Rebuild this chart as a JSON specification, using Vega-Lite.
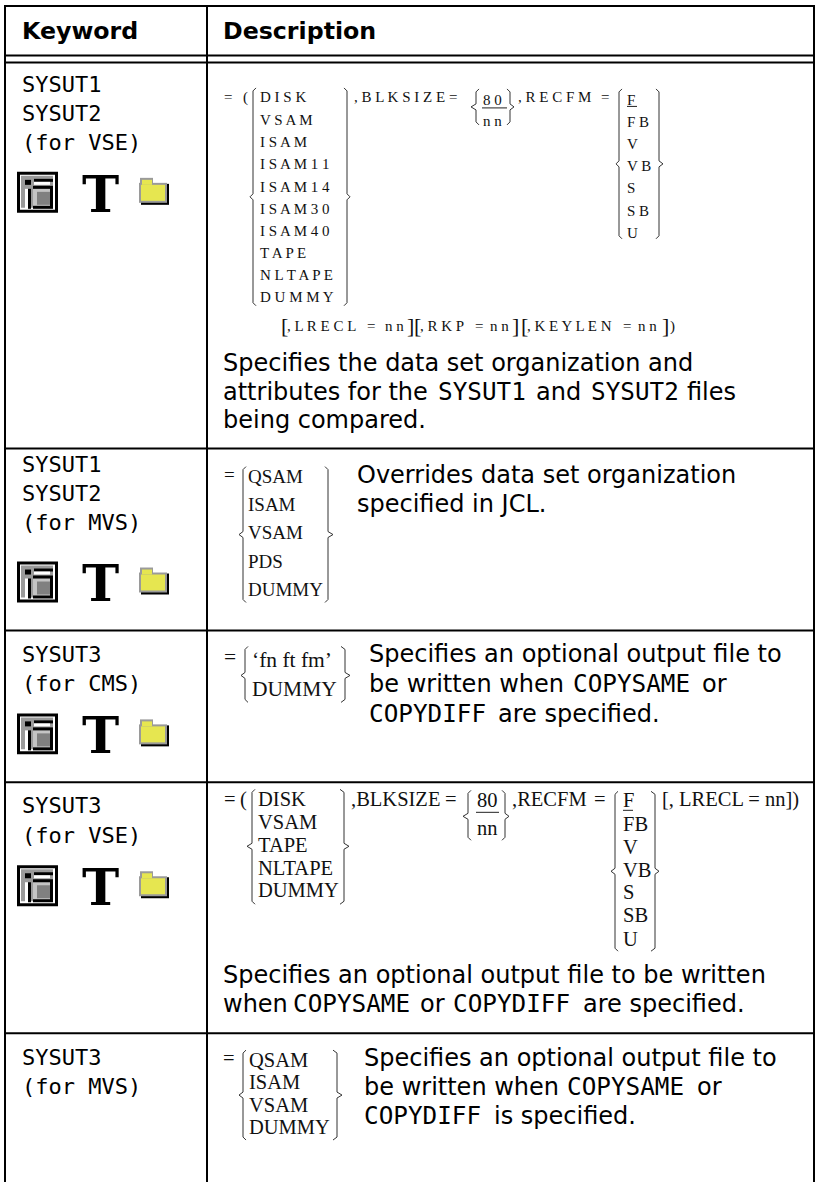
{
"$schema":"https://vega.github.io/schema/vega-lite/v6.json",
"width":818,"height":1183,"padding":0,
"autosize":{"type":"fit","contains":"padding"},
"background":"white",
"view":{"stroke":null},
"datasets":{
"grid":[
{"x":5,"x2":5,"y":6,"y2":1183},{"x":207,"x2":207,"y":6,"y2":1183},{"x":814,"x2":814,"y":6,"y2":1183},
{"x":4,"x2":815,"y":6,"y2":6},{"x":4,"x2":815,"y":55.5,"y2":55.5},{"x":4,"x2":815,"y":62.5,"y2":62.5},
{"x":4,"x2":815,"y":449,"y2":449},{"x":4,"x2":815,"y":631,"y2":631},{"x":4,"x2":815,"y":783,"y2":783},{"x":4,"x2":815,"y":1034,"y2":1034}
],
"icons":[
{"part":"ink","x":17,"x2":58,"y":172,"y2":213},{"part":"ring","x":20,"x2":55,"y":175,"y2":210},{"part":"shade","x":21,"x2":53,"y":176,"y2":208},{"part":"ink","x":25,"x2":31,"y":180,"y2":185},{"part":"ink","x":34,"x2":53,"y":179,"y2":182},{"part":"ring","x":34,"x2":50,"y":182,"y2":185},{"part":"ring","x":25,"x2":28,"y":189,"y2":209},{"part":"ink","x":28,"x2":31,"y":189,"y2":209},{"part":"ink","x":33,"x2":53,"y":186,"y2":209},{"part":"pale","x":33,"x2":50,"y":189,"y2":206},{"part":"mid","x":37,"x2":50,"y":192,"y2":205},
{"part":"ink","x":141,"x2":169,"y":184,"y2":205},{"part":"shade","x":139,"x2":167,"y":183,"y2":203},{"part":"shade","x":140,"x2":153,"y":178,"y2":184},{"part":"yellow","x":142,"x2":152,"y":180,"y2":185},{"part":"yellow","x":141,"x2":165,"y":185,"y2":201},
{"part":"ink","x":17,"x2":58,"y":562,"y2":603},{"part":"ring","x":20,"x2":55,"y":565,"y2":600},{"part":"shade","x":21,"x2":53,"y":566,"y2":598},{"part":"ink","x":25,"x2":31,"y":570,"y2":575},{"part":"ink","x":34,"x2":53,"y":569,"y2":572},{"part":"ring","x":34,"x2":50,"y":572,"y2":575},{"part":"ring","x":25,"x2":28,"y":579,"y2":599},{"part":"ink","x":28,"x2":31,"y":579,"y2":599},{"part":"ink","x":33,"x2":53,"y":576,"y2":599},{"part":"pale","x":33,"x2":50,"y":579,"y2":596},{"part":"mid","x":37,"x2":50,"y":582,"y2":595},
{"part":"ink","x":141,"x2":169,"y":574,"y2":595},{"part":"shade","x":139,"x2":167,"y":573,"y2":593},{"part":"shade","x":140,"x2":153,"y":568,"y2":574},{"part":"yellow","x":142,"x2":152,"y":570,"y2":575},{"part":"yellow","x":141,"x2":165,"y":575,"y2":591},
{"part":"ink","x":17,"x2":58,"y":714,"y2":755},{"part":"ring","x":20,"x2":55,"y":717,"y2":752},{"part":"shade","x":21,"x2":53,"y":718,"y2":750},{"part":"ink","x":25,"x2":31,"y":722,"y2":727},{"part":"ink","x":34,"x2":53,"y":721,"y2":724},{"part":"ring","x":34,"x2":50,"y":724,"y2":727},{"part":"ring","x":25,"x2":28,"y":731,"y2":751},{"part":"ink","x":28,"x2":31,"y":731,"y2":751},{"part":"ink","x":33,"x2":53,"y":728,"y2":751},{"part":"pale","x":33,"x2":50,"y":731,"y2":748},{"part":"mid","x":37,"x2":50,"y":734,"y2":747},
{"part":"ink","x":141,"x2":169,"y":726,"y2":747},{"part":"shade","x":139,"x2":167,"y":725,"y2":745},{"part":"shade","x":140,"x2":153,"y":720,"y2":726},{"part":"yellow","x":142,"x2":152,"y":722,"y2":727},{"part":"yellow","x":141,"x2":165,"y":727,"y2":743},
{"part":"ink","x":17,"x2":58,"y":866,"y2":907},{"part":"ring","x":20,"x2":55,"y":869,"y2":904},{"part":"shade","x":21,"x2":53,"y":870,"y2":902},{"part":"ink","x":25,"x2":31,"y":874,"y2":879},{"part":"ink","x":34,"x2":53,"y":873,"y2":876},{"part":"ring","x":34,"x2":50,"y":876,"y2":879},{"part":"ring","x":25,"x2":28,"y":883,"y2":903},{"part":"ink","x":28,"x2":31,"y":883,"y2":903},{"part":"ink","x":33,"x2":53,"y":880,"y2":903},{"part":"pale","x":33,"x2":50,"y":883,"y2":900},{"part":"mid","x":37,"x2":50,"y":886,"y2":899},
{"part":"ink","x":141,"x2":169,"y":878,"y2":899},{"part":"shade","x":139,"x2":167,"y":877,"y2":897},{"part":"shade","x":140,"x2":153,"y":872,"y2":878},{"part":"yellow","x":142,"x2":152,"y":874,"y2":879},{"part":"yellow","x":141,"x2":165,"y":879,"y2":895}
],
"tees":[{"x":82,"y":212,"t":"T"},{"x":82,"y":602,"t":"T"},{"x":82,"y":754,"t":"T"},{"x":82,"y":906,"t":"T"}],
"head":[{"x":22,"y":39,"t":"Keyword"},{"x":223,"y":39,"t":"Description"}],
"keys":[
{"x":22,"y":92,"t":"SYSUT1"},{"x":22,"y":121,"t":"SYSUT2"},{"x":22,"y":150,"t":"(for VSE)"},
{"x":22,"y":472,"t":"SYSUT1"},{"x":22,"y":501,"t":"SYSUT2"},{"x":22,"y":530,"t":"(for MVS)"},
{"x":22,"y":663,"t":"SYSUT3"},{"x":22,"y":692,"t":"(for CMS)"},
{"x":22,"y":814,"t":"SYSUT3"},{"x":22,"y":844,"t":"(for VSE)"},
{"x":22,"y":1066,"t":"SYSUT3"},{"x":22,"y":1095,"t":"(for MVS)"}
],
"body":[
{"x":223,"y":371,"t":"Specifies the data set organization and"},
{"x":223,"y":400,"t":"attributes for the"},{"x":536,"y":400,"t":"and"},{"x":687,"y":400,"t":"files"},
{"x":223,"y":428,"t":"being compared."},
{"x":357,"y":483,"t":"Overrides data set organization"},{"x":357,"y":512,"t":"specified in JCL."},
{"x":369,"y":663,"t":"Specifies an optional output file to"},{"x":369,"y":693,"t":"be written when"},{"x":702,"y":693,"t":"or"},{"x":498,"y":723,"t":"are specified."},
{"x":223,"y":984,"t":"Specifies an optional output file to be written"},{"x":223,"y":1013,"t":"when"},{"x":420,"y":1013,"t":"or"},{"x":583,"y":1013,"t":"are specified."},
{"x":364,"y":1067,"t":"Specifies an optional output file to"},{"x":364,"y":1096,"t":"be written when"},{"x":697,"y":1096,"t":"or"},{"x":494,"y":1125,"t":"is specified."}
],
"codes":[
{"x":438,"y":400,"t":"SYSUT1"},{"x":591,"y":400,"t":"SYSUT2"},
{"x":573,"y":693,"t":"COPYSAME"},{"x":369,"y":723,"t":"COPYDIFF"},
{"x":293,"y":1013,"t":"COPYSAME"},{"x":453,"y":1013,"t":"COPYDIFF"},
{"x":567,"y":1096,"t":"COPYSAME"},{"x":364,"y":1125,"t":"COPYDIFF"}
],
"tracked":[
{"x":224,"y":102,"t":"="},{"x":243,"y":102,"t":"("},
{"x":260,"y":102,"t":"D I S K"},{"x":260,"y":125,"t":"V S A M"},{"x":260,"y":147,"t":"I S A M"},{"x":260,"y":169,"t":"I S A M 1 1"},{"x":260,"y":192,"t":"I S A M 1 4"},{"x":260,"y":214,"t":"I S A M 3 0"},{"x":260,"y":236,"t":"I S A M 4 0"},{"x":260,"y":258,"t":"T A P E"},{"x":260,"y":280,"t":"N L T A P E"},{"x":260,"y":302,"t":"D U M M Y"},
{"x":354,"y":102,"t":", B L K S I Z E"},{"x":449,"y":102,"t":"="},
{"x":483,"y":105,"t":"8 0"},{"x":483,"y":126,"t":"n n"},
{"x":518,"y":102,"t":", R E C F M"},{"x":601,"y":102,"t":"="},
{"x":627,"y":105,"t":"F"},{"x":627,"y":127,"t":"F B"},{"x":627,"y":149,"t":"V"},{"x":627,"y":171,"t":"V B"},{"x":627,"y":193,"t":"S"},{"x":627,"y":216,"t":"S B"},{"x":627,"y":238,"t":"U"},
{"x":287,"y":331,"t":", L R E C L"},{"x":367,"y":331,"t":"="},{"x":385,"y":331,"t":"n n"},
{"x":420,"y":331,"t":", R K P"},{"x":475,"y":331,"t":"="},{"x":490,"y":331,"t":"n n"},
{"x":527,"y":331,"t":", K E Y L E N"},{"x":623,"y":331,"t":"="},{"x":638,"y":331,"t":"n n"}
],
"squares":[
{"x":281,"y":333,"t":"["},{"x":407,"y":333,"t":"]"},{"x":414,"y":333,"t":"["},{"x":512,"y":333,"t":"]"},{"x":521,"y":333,"t":"["},{"x":662,"y":333,"t":"]"}
],
"closer":[{"x":670,"y":331,"t":")"}],
"m19":[
{"x":224,"y":481,"t":"="},{"x":248,"y":483,"t":"QSAM"},{"x":248,"y":511,"t":"ISAM"},{"x":248,"y":539,"t":"VSAM"},{"x":248,"y":568,"t":"PDS"},{"x":248,"y":597,"t":"DUMMY"}
],
"m21":[
{"x":224,"y":665,"t":"="},{"x":252,"y":668,"t":"‘fn ft fm’"},{"x":252,"y":697,"t":"DUMMY"}
],
"m20":[
{"x":224,"y":807,"t":"="},{"x":240,"y":807,"t":"("},{"x":258,"y":807,"t":"DISK"},{"x":258,"y":830,"t":"VSAM"},{"x":258,"y":853,"t":"TAPE"},{"x":258,"y":876,"t":"NLTAPE"},{"x":258,"y":898,"t":"DUMMY"},
{"x":351,"y":807,"t":",BLKSIZE"},{"x":445,"y":807,"t":"="},{"x":477,"y":808,"t":"80"},{"x":477,"y":836,"t":"nn"},
{"x":512,"y":807,"t":",RECFM"},{"x":594,"y":807,"t":"="},
{"x":623,"y":808,"t":"F"},{"x":623,"y":832,"t":"FB"},{"x":623,"y":855,"t":"V"},{"x":623,"y":878,"t":"VB"},{"x":623,"y":900,"t":"S"},{"x":623,"y":923,"t":"SB"},{"x":623,"y":947,"t":"U"},
{"x":662,"y":807,"t":"[, LRECL = nn])"},
{"x":223,"y":1066,"t":"="},{"x":249,"y":1068,"t":"QSAM"},{"x":249,"y":1090,"t":"ISAM"},{"x":249,"y":1113,"t":"VSAM"},{"x":249,"y":1135,"t":"DUMMY"}
],
"strokes":[
{"x":482,"x2":507,"y":108,"y2":108},{"x":627,"x2":637,"y":106.5,"y2":106.5},
{"x":476,"x2":499,"y":813,"y2":813},{"x":623,"x2":633,"y":811,"y2":811}
],
"braces":[
{"b":"A1","i":0,"x":256,"y":88},{"b":"A1","i":1,"x":253,"y":91},{"b":"A1","i":2,"x":253,"y":194},{"b":"A1","i":3,"x":250,"y":197},{"b":"A1","i":4,"x":253,"y":200},{"b":"A1","i":5,"x":253,"y":303},{"b":"A1","i":6,"x":256,"y":306},
{"b":"A2","i":0,"x":344,"y":88},{"b":"A2","i":1,"x":347,"y":91},{"b":"A2","i":2,"x":347,"y":194},{"b":"A2","i":3,"x":350,"y":197},{"b":"A2","i":4,"x":347,"y":200},{"b":"A2","i":5,"x":347,"y":303},{"b":"A2","i":6,"x":344,"y":306},
{"b":"B1","i":0,"x":479,"y":89},{"b":"B1","i":1,"x":476,"y":92},{"b":"B1","i":2,"x":476,"y":104},{"b":"B1","i":3,"x":471,"y":107},{"b":"B1","i":4,"x":476,"y":110},{"b":"B1","i":5,"x":476,"y":122},{"b":"B1","i":6,"x":479,"y":125},
{"b":"B2","i":0,"x":507,"y":89},{"b":"B2","i":1,"x":510,"y":92},{"b":"B2","i":2,"x":510,"y":104},{"b":"B2","i":3,"x":514,"y":107},{"b":"B2","i":4,"x":510,"y":110},{"b":"B2","i":5,"x":510,"y":122},{"b":"B2","i":6,"x":507,"y":125},
{"b":"C1","i":0,"x":622,"y":89},{"b":"C1","i":1,"x":619,"y":92},{"b":"C1","i":2,"x":619,"y":161},{"b":"C1","i":3,"x":616,"y":164},{"b":"C1","i":4,"x":619,"y":167},{"b":"C1","i":5,"x":619,"y":236},{"b":"C1","i":6,"x":622,"y":239},
{"b":"C2","i":0,"x":656,"y":89},{"b":"C2","i":1,"x":659,"y":92},{"b":"C2","i":2,"x":659,"y":161},{"b":"C2","i":3,"x":663,"y":164},{"b":"C2","i":4,"x":659,"y":167},{"b":"C2","i":5,"x":659,"y":236},{"b":"C2","i":6,"x":656,"y":239},
{"b":"D1","i":0,"x":246,"y":467},{"b":"D1","i":1,"x":243,"y":470},{"b":"D1","i":2,"x":243,"y":532},{"b":"D1","i":3,"x":239,"y":535},{"b":"D1","i":4,"x":243,"y":538},{"b":"D1","i":5,"x":243,"y":600},{"b":"D1","i":6,"x":246,"y":603},
{"b":"D2","i":0,"x":325,"y":467},{"b":"D2","i":1,"x":328,"y":470},{"b":"D2","i":2,"x":328,"y":532},{"b":"D2","i":3,"x":333,"y":535},{"b":"D2","i":4,"x":328,"y":538},{"b":"D2","i":5,"x":328,"y":600},{"b":"D2","i":6,"x":325,"y":603},
{"b":"E1","i":0,"x":248,"y":647},{"b":"E1","i":1,"x":245,"y":650},{"b":"E1","i":2,"x":245,"y":673},{"b":"E1","i":3,"x":241,"y":676},{"b":"E1","i":4,"x":245,"y":679},{"b":"E1","i":5,"x":245,"y":700},{"b":"E1","i":6,"x":248,"y":703},
{"b":"E2","i":0,"x":341,"y":647},{"b":"E2","i":1,"x":345,"y":650},{"b":"E2","i":2,"x":345,"y":673},{"b":"E2","i":3,"x":350,"y":676},{"b":"E2","i":4,"x":345,"y":679},{"b":"E2","i":5,"x":345,"y":700},{"b":"E2","i":6,"x":341,"y":703},
{"b":"F1","i":0,"x":255,"y":790},{"b":"F1","i":1,"x":252,"y":793},{"b":"F1","i":2,"x":252,"y":844},{"b":"F1","i":3,"x":247,"y":847},{"b":"F1","i":4,"x":252,"y":850},{"b":"F1","i":5,"x":252,"y":902},{"b":"F1","i":6,"x":255,"y":905},
{"b":"F2","i":0,"x":340,"y":790},{"b":"F2","i":1,"x":344,"y":793},{"b":"F2","i":2,"x":344,"y":844},{"b":"F2","i":3,"x":349,"y":847},{"b":"F2","i":4,"x":344,"y":850},{"b":"F2","i":5,"x":344,"y":902},{"b":"F2","i":6,"x":340,"y":905},
{"b":"G1","i":0,"x":471,"y":791},{"b":"G1","i":1,"x":468,"y":794},{"b":"G1","i":2,"x":468,"y":814},{"b":"G1","i":3,"x":463,"y":817},{"b":"G1","i":4,"x":468,"y":820},{"b":"G1","i":5,"x":468,"y":838},{"b":"G1","i":6,"x":471,"y":841},
{"b":"G2","i":0,"x":502,"y":791},{"b":"G2","i":1,"x":505,"y":794},{"b":"G2","i":2,"x":505,"y":814},{"b":"G2","i":3,"x":509,"y":817},{"b":"G2","i":4,"x":505,"y":820},{"b":"G2","i":5,"x":505,"y":838},{"b":"G2","i":6,"x":502,"y":841},
{"b":"H1","i":0,"x":618,"y":792},{"b":"H1","i":1,"x":615,"y":795},{"b":"H1","i":2,"x":615,"y":869},{"b":"H1","i":3,"x":611,"y":872},{"b":"H1","i":4,"x":615,"y":875},{"b":"H1","i":5,"x":615,"y":949},{"b":"H1","i":6,"x":618,"y":952},
{"b":"H2","i":0,"x":651,"y":792},{"b":"H2","i":1,"x":655,"y":795},{"b":"H2","i":2,"x":655,"y":869},{"b":"H2","i":3,"x":659,"y":872},{"b":"H2","i":4,"x":655,"y":875},{"b":"H2","i":5,"x":655,"y":949},{"b":"H2","i":6,"x":651,"y":952},
{"b":"I1","i":0,"x":246,"y":1051},{"b":"I1","i":1,"x":243,"y":1054},{"b":"I1","i":2,"x":243,"y":1093},{"b":"I1","i":3,"x":239,"y":1096},{"b":"I1","i":4,"x":243,"y":1099},{"b":"I1","i":5,"x":243,"y":1138},{"b":"I1","i":6,"x":246,"y":1141},
{"b":"I2","i":0,"x":333,"y":1051},{"b":"I2","i":1,"x":337,"y":1054},{"b":"I2","i":2,"x":337,"y":1093},{"b":"I2","i":3,"x":342,"y":1096},{"b":"I2","i":4,"x":337,"y":1099},{"b":"I2","i":5,"x":337,"y":1138},{"b":"I2","i":6,"x":333,"y":1141}
]
},
"encoding":{
"x":{"field":"x","type":"quantitative","scale":{"domain":[0,818],"nice":false,"zero":false},"axis":null},
"y":{"field":"y","type":"quantitative","scale":{"domain":[1183,0],"nice":false,"zero":false},"axis":null}
},
"layer":[
{"data":{"name":"icons"},"mark":{"type":"rect"},"encoding":{"x2":{"field":"x2"},"y2":{"field":"y2"},"color":{"field":"part","type":"nominal","legend":null,"scale":{"domain":["ink","ring","shade","pale","mid","yellow"],"range":["#000000","#ffffff","#9a9a9a","#c4c4c4","#808080","#e6e650"]}}}},
{"data":{"name":"grid"},"mark":{"type":"rule","color":"#000000","strokeWidth":2},"encoding":{"x2":{"field":"x2"},"y2":{"field":"y2"}}},
{"data":{"name":"strokes"},"mark":{"type":"rule","color":"#222222","strokeWidth":1},"encoding":{"x2":{"field":"x2"},"y2":{"field":"y2"}}},
{"data":{"name":"braces"},"mark":{"type":"line","color":"#333333","strokeWidth":1},"encoding":{"detail":{"field":"b"},"order":{"field":"i","type":"quantitative"}}},
{"data":{"name":"tees"},"mark":{"type":"text","font":"DejaVu Serif","fontWeight":"bold","fontSize":50,"align":"left","baseline":"alphabetic","color":"#000000"},"encoding":{"text":{"field":"t"}}},
{"data":{"name":"head"},"mark":{"type":"text","font":"DejaVu Sans","fontWeight":"bold","fontSize":23.7,"align":"left","baseline":"alphabetic","color":"#000000"},"encoding":{"text":{"field":"t"}}},
{"data":{"name":"keys"},"mark":{"type":"text","font":"DejaVu Sans Mono","fontSize":22,"align":"left","baseline":"alphabetic","color":"#000000"},"encoding":{"text":{"field":"t"}}},
{"data":{"name":"body"},"mark":{"type":"text","font":"DejaVu Sans","fontSize":24,"align":"left","baseline":"alphabetic","color":"#000000"},"encoding":{"text":{"field":"t"}}},
{"data":{"name":"codes"},"mark":{"type":"text","font":"DejaVu Sans Mono","fontSize":24.3,"align":"left","baseline":"alphabetic","color":"#000000"},"encoding":{"text":{"field":"t"}}},
{"data":{"name":"tracked"},"mark":{"type":"text","font":"Liberation Serif","fontSize":15,"align":"left","baseline":"alphabetic","color":"#111111"},"encoding":{"text":{"field":"t"}}},
{"data":{"name":"squares"},"mark":{"type":"text","font":"Liberation Serif","fontSize":22,"align":"left","baseline":"alphabetic","color":"#111111"},"encoding":{"text":{"field":"t"}}},
{"data":{"name":"closer"},"mark":{"type":"text","font":"Liberation Serif","fontSize":15,"align":"left","baseline":"alphabetic","color":"#111111"},"encoding":{"text":{"field":"t"}}},
{"data":{"name":"m19"},"mark":{"type":"text","font":"Liberation Serif","fontSize":19,"align":"left","baseline":"alphabetic","color":"#111111"},"encoding":{"text":{"field":"t"}}},
{"data":{"name":"m21"},"mark":{"type":"text","font":"Liberation Serif","fontSize":21.5,"align":"left","baseline":"alphabetic","color":"#111111"},"encoding":{"text":{"field":"t"}}},
{"data":{"name":"m20"},"mark":{"type":"text","font":"Liberation Serif","fontSize":20.5,"align":"left","baseline":"alphabetic","color":"#111111"},"encoding":{"text":{"field":"t"}}}
]
}
